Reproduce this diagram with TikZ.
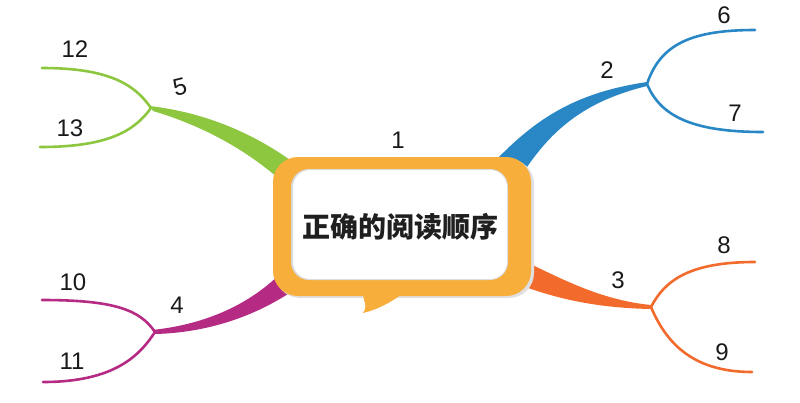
\documentclass[tikz,border=0pt]{standalone}
\usepackage{fontspec}
\setmainfont{Liberation Sans}
\newfontfamily\cjk{Noto Sans CJK SC}
\definecolor{cgreen}{HTML}{8DC63F}
\definecolor{cblue}{HTML}{2A87C6}
\definecolor{cmag}{HTML}{B52B84}
\definecolor{corange}{HTML}{F26B2C}
\definecolor{cbox}{HTML}{F7AE3B}
\tikzset{
  num/.style={inner sep=0pt, font=\fontsize{24}{24}\selectfont, text=black!90},
  twig/.style={line width=2.6pt, line cap=round},
}
\begin{document}
\begin{tikzpicture}[x=1pt,y=-1pt]
\useasboundingbox (0,0) rectangle (800,402);
% fork and end coordinates
\coordinate (F2) at (647,84);
\coordinate (E6) at (755,30);
\coordinate (E7) at (763,132);
\coordinate (F5) at (151,108);
\coordinate (E12) at (42,68);
\coordinate (E13) at (40,147);
\coordinate (F4) at (155,332);
\coordinate (E10) at (42,300);
\coordinate (E11) at (43,382);
\coordinate (F3) at (651,307);
\coordinate (E8) at (755,262);
\coordinate (E9) at (752,372);
% thick branches
\fill[cblue] (498,158) .. controls (540,115) and (580,92) .. (647,82) -- (647,86) .. controls (590,100) and (555,125) .. (525,170) -- cycle;
\fill[cgreen] (150,106) .. controls (200,112) and (250,130) .. (297,165) -- (285,184) .. controls (245,148) and (200,125) .. (153,111) -- cycle;
\fill[cmag] (152,330) .. controls (200,325) and (245,308) .. (280,274) -- (294,290) .. controls (250,320) and (200,333) .. (155,334) -- cycle;
\fill[corange] (520,259) .. controls (560,278) and (600,300) .. (651,305) -- (651,309) .. controls (600,308) and (560,300) .. (520,285) -- cycle;
% thin branches
\draw[twig, cblue] (F2) .. controls (660,45) and (690,30) .. (E6);
\draw[twig, cblue] (F2) .. controls (660,115) and (690,132) .. (E7);
\draw[twig, cgreen] (F5) .. controls (135,85) and (110,68) .. (E12);
\draw[twig, cgreen] (F5) .. controls (135,130) and (110,147) .. (E13);
\draw[twig, cmag] (F4) .. controls (140,310) and (115,300) .. (E10);
\draw[twig, cmag] (F4) .. controls (140,355) and (115,382) .. (E11);
\draw[twig, corange] (F3) .. controls (665,280) and (690,262) .. (E8);
\draw[twig, corange] (F3) .. controls (665,340) and (690,372) .. (E9);
% central speech box
\fill[black!12, rounded corners=25] (275,159) rectangle (534,298);
\fill[cbox, rounded corners=25] (273,157) rectangle (531,296);
\fill[cbox] (362,290) -- (364,300) .. controls (366,305) and (366,309) .. (363,313) .. controls (380,309) and (395,300) .. (407,290) -- cycle;
\fill[black!15, rounded corners=18] (291,169) rectangle (508,280);
\fill[white, rounded corners=17] (293,170) rectangle (507,279);
\node[inner sep=0pt, font=\fontsize{28}{28}\selectfont\cjk\bfseries, text=black!88] (title) at (400,227) {正确的阅读顺序};
% labels
\node[num] (l1) at (398,140) {1};
\node[num] (l2) at (607,70) {2};
\node[num] (l3) at (618,280) {3};
\node[num] (l4) at (177,305) {4};
\node[num, rotate=14] (l5) at (180,87) {5};
\node[num] (l6) at (724,15) {6};
\node[num] (l7) at (735,113) {7};
\node[num] (l8) at (724,245) {8};
\node[num] (l9) at (722,352) {9};
\node[num] (l10) at (73,282) {10};
\node[num] (l11) at (72,361) {11};
\node[num] (l12) at (75,49) {12};
\node[num] (l13) at (70,128) {13};
\end{tikzpicture}
\end{document}
